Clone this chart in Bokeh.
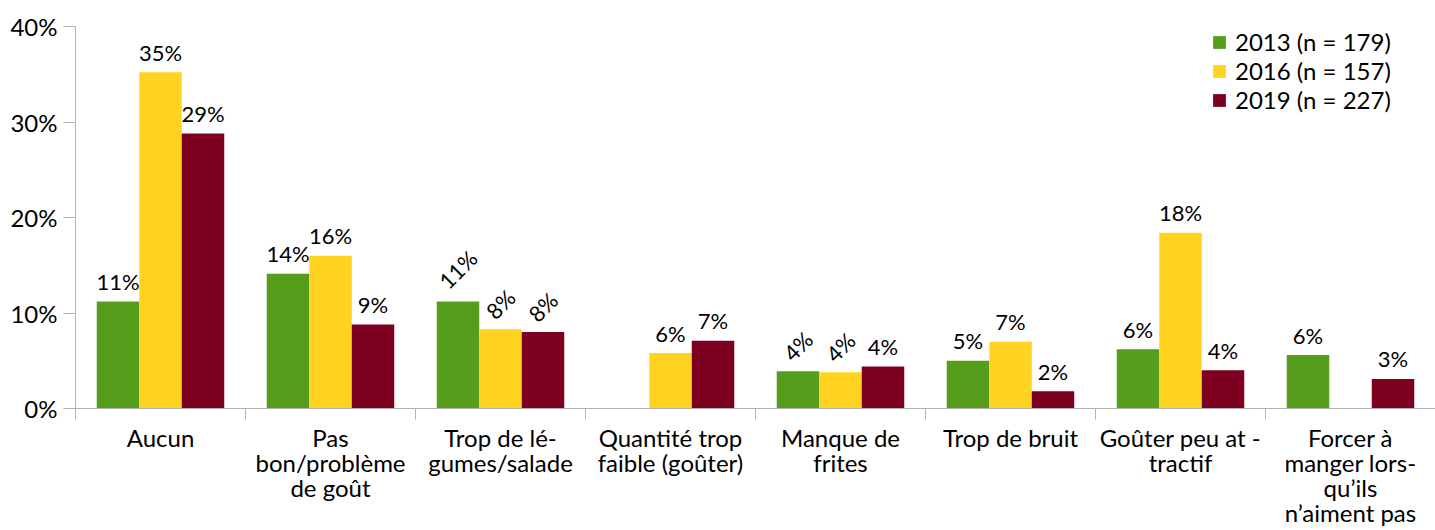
import math
from bokeh.plotting import figure
from bokeh.models import (ColumnDataSource, Range1d, FixedTicker, CustomJSTickFormatter,
                          Legend, LegendItem)
from bokeh.core.properties import value
from bokeh.transform import dodge
from bokeh.embed import file_html
from bokeh.resources import INLINE

# ---------------- data ----------------
categories = [
    "Aucun",
    "Pas\nbon/problème\nde goût",
    "Trop de lé-\ngumes/salade",
    "Quantité trop\nfaible (goûter)",
    "Manque de\nfrites",
    "Trop de bruit",
    "Goûter peu at -\ntractif",
    "Forcer à\nmanger lors-\nqu’ils\nn’aiment pas",
]
series_names = ["2013 (n = 179)", "2016 (n = 157)", "2019 (n = 227)"]
v2013 = [11.2, 14.1, 11.2, None, 3.9, 5.0, 6.2, 5.6]
v2016 = [35.2, 16.0, 8.3, 5.8, 3.8, 7.0, 18.4, None]
v2019 = [28.8, 8.8, 8.0, 7.1, 4.4, 1.8, 4.0, 3.1]
y_ticks = [0, 10, 20, 30, 40]

# ---------------- style ----------------
colors = ["#579D1C", "#FFD320", "#7E0021"]
rot2013 = [False, False, True, False, True, False, False, False]
rot2016 = [False, False, True, False, True, False, False, False]
rot2019 = [False, False, True, False, False, False, False, False]
FONT = "Lato"
AXIS_GRAY = "#b3b3b3"

p = figure(width=1435, height=530,
           x_range=Range1d(0, len(categories)), y_range=Range1d(0, 40),
           output_backend="svg", toolbar_location=None,
           min_border_left=75, min_border_right=0,
           min_border_top=26, min_border_bottom=122)
p.outline_line_color = None
p.grid.visible = False

series = [v2013, v2016, v2019]
rots = [rot2013, rot2016, rot2019]
bar_w = 0.25
legend_items = []
for k, (vals, col, rot) in enumerate(zip(series, colors, rots)):
    off = (k - 1) * bar_w
    xc, tops = [], []
    hx, hy, ht = [], [], []
    rx, ry, rt, ro = [], [], [], []
    for i, v in enumerate(vals):
        if v is None:
            continue
        c = i + 0.5
        xc.append(c); tops.append(v)
        t = f"{round(v)}%"
        if rot[i]:
            rx.append(c); ry.append(v); rt.append(t); ro.append(-(11 + 7 * len(t)))
        else:
            hx.append(c); hy.append(v); ht.append(t)
    src = ColumnDataSource(dict(x=xc, top=tops))
    r = p.vbar(x=dodge("x", off, range=p.x_range), top="top", bottom=0, width=bar_w,
               source=src, fill_color=col, line_color=None)
    legend_items.append(LegendItem(label=series_names[k], renderers=[r]))
    hs = ColumnDataSource(dict(x=hx, y=hy, t=ht))
    p.text(x=dodge("x", off, range=p.x_range), y="y", text="t", source=hs,
           text_align="center", text_baseline="alphabetic", y_offset=-20,
           text_font=value(FONT), text_font_size=value("22px"), text_color="black")
    rs = ColumnDataSource(dict(x=rx, y=ry, t=rt, yo=ro))
    p.text(x=dodge("x", off, range=p.x_range), y="y", text="t", source=rs,
           angle=math.pi / 4, text_align="center", text_baseline="middle", y_offset="yo",
           text_font=value(FONT), text_font_size=value("22px"), text_color="black")

legend = Legend(items=legend_items, location=(1136, 294),
                border_line_color=None, background_fill_alpha=0,
                padding=0, margin=0, spacing=-2,
                glyph_width=16, glyph_height=16, label_height=27, label_standoff=8,
                label_text_font=FONT, label_text_font_size="24px", label_text_color="black")
p.add_layout(legend)

# y axis
ya = p.yaxis[0]
ya.ticker = FixedTicker(ticks=y_ticks)
ya.formatter = CustomJSTickFormatter(code="return tick + '%'")
ya.axis_line_color = AXIS_GRAY
ya.major_tick_line_color = AXIS_GRAY
ya.major_tick_out = 12
ya.major_tick_in = 0
ya.minor_tick_out = 0
ya.minor_tick_in = 0
ya.major_label_standoff = 6
ya.major_label_text_font = FONT
ya.major_label_text_font_size = "24px"
ya.major_label_text_color = "black"

# x axis: category labels at centres, dividers as minor ticks at boundaries
xa = p.xaxis[0]
centres = [i + 0.5 for i in range(len(categories))]
xa.ticker = FixedTicker(ticks=centres, minor_ticks=list(range(len(categories) + 1)))
xa.major_label_overrides = {c: cat for c, cat in zip(centres, categories)}
xa.axis_line_color = AXIS_GRAY
xa.major_tick_line_color = None
xa.major_tick_out = 0
xa.major_tick_in = 0
xa.minor_tick_line_color = AXIS_GRAY
xa.minor_tick_out = 11
xa.minor_tick_in = 0
xa.major_label_standoff = 3
xa.major_label_text_font = FONT
xa.major_label_text_font_size = "24px"
xa.major_label_text_color = "black"
xa.major_label_text_line_height = 0.87

open("out.html", "w").write(file_html(p, INLINE))
